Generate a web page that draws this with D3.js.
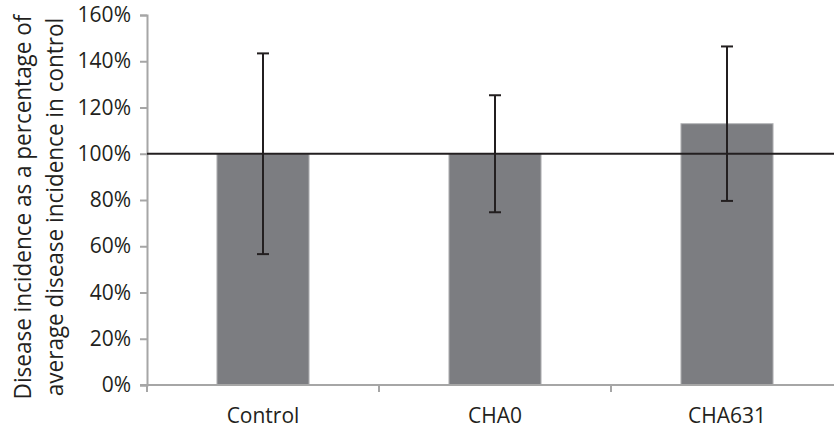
<!DOCTYPE html>
<html>
<head>
<meta charset="utf-8">
<script src="https://cdn.jsdelivr.net/npm/d3@7"></script>
<style>
  html, body { margin: 0; padding: 0; background: #fff; }
  svg { display: block; font-family: "Open Sans", sans-serif; }
</style>
</head>
<body>
<svg id="chart" width="834" height="432"></svg>
<script>
// Treatments and disease incidence relative to the control mean (%)
const categories = ["Control", "CHA0", "CHA631"];
const means = [100, 100, 113];
const errors = [43.4, 25.3, 33.4];
const yTicks = [0, 20, 40, 60, 80, 100, 120, 140, 160];
const referenceLevel = 100;
const yTitleLines = ["Disease incidence as a percentage of", "average disease incidence in control"];

const svg = d3.select("#chart");
const plotLeft = 147, plotTop = 15, plotBottom = 385, plotRight = 843;

const x = d3.scaleBand().domain(categories).range([plotLeft, plotRight]).padding(0);
const y = d3.scaleLinear().domain([0, 160]).range([plotBottom, plotTop]);
const barW = x.bandwidth() * 0.397;

const axisColor = "#a6a6a6";
const inkColor = "#231f20";
const labelSize = "21px";

// Bars
svg.append("g").selectAll("rect")
  .data(categories)
  .join("rect")
  .attr("x", (d) => x(d) + x.bandwidth() / 2 - barW / 2)
  .attr("y", (d, i) => y(means[i]))
  .attr("width", barW)
  .attr("height", (d, i) => y(0) - y(means[i]))
  .attr("fill", "#7c7d81")
  .attr("stroke", "#b5b6b8")
  .attr("stroke-width", 1);

// Y axis
const yAxis = svg.append("g")
  .attr("transform", `translate(${plotLeft},0)`)
  .call(d3.axisLeft(y).tickValues(yTicks).tickFormat((d) => d + "%").tickSize(7).tickPadding(9));
yAxis.select(".domain").attr("stroke", axisColor).attr("stroke-width", 2);
yAxis.selectAll(".tick line").attr("stroke", axisColor).attr("stroke-width", 2);
yAxis.selectAll(".tick text")
  .attr("fill", inkColor)
  .style("font-size", labelSize)
  .style("font-family", "'Open Sans', sans-serif");

// X axis: ticks at category boundaries, labels centred under bars
const xAxisG = svg.append("g").attr("transform", `translate(0,${plotBottom})`);
xAxisG.append("line")
  .attr("x1", plotLeft - 7).attr("x2", plotRight)
  .attr("stroke", axisColor).attr("stroke-width", 2);
const boundaries = categories.map((d) => x(d)).concat([x(categories[categories.length - 1]) + x.bandwidth()]);
xAxisG.selectAll("line.bt")
  .data(boundaries)
  .join("line")
  .attr("class", "bt")
  .attr("x1", (d) => d).attr("x2", (d) => d)
  .attr("y1", 0).attr("y2", 7)
  .attr("stroke", axisColor).attr("stroke-width", 2);
xAxisG.selectAll("text")
  .data(categories)
  .join("text")
  .attr("x", (d) => x(d) + x.bandwidth() / 2)
  .attr("y", 38)
  .attr("text-anchor", "middle")
  .attr("fill", inkColor)
  .style("font-size", labelSize)
  .text((d) => d);

// Reference line at the control level
svg.append("line")
  .attr("x1", plotLeft).attr("x2", 834)
  .attr("y1", y(referenceLevel)).attr("y2", y(referenceLevel))
  .attr("stroke", inkColor).attr("stroke-width", 2);

// Error bars
const eb = svg.append("g").selectAll("g")
  .data(categories)
  .join("g")
  .attr("transform", (d) => `translate(${x(d) + x.bandwidth() / 2},0)`);
eb.append("line")
  .attr("y1", (d, i) => y(means[i] - errors[i]))
  .attr("y2", (d, i) => y(means[i] + errors[i]))
  .attr("stroke", inkColor).attr("stroke-width", 2);
eb.append("line")
  .attr("x1", -6).attr("x2", 6)
  .attr("y1", (d, i) => y(means[i] + errors[i]))
  .attr("y2", (d, i) => y(means[i] + errors[i]))
  .attr("stroke", inkColor).attr("stroke-width", 2);
eb.append("line")
  .attr("x1", -6).attr("x2", 6)
  .attr("y1", (d, i) => y(means[i] - errors[i]))
  .attr("y2", (d, i) => y(means[i] - errors[i]))
  .attr("stroke", inkColor).attr("stroke-width", 2);

// Y-axis title, two rotated lines
const title = svg.append("text")
  .attr("transform", "translate(0,207) scale(1.06,1) rotate(-90)")
  .attr("text-anchor", "middle")
  .attr("fill", inkColor)
  .style("font-size", "22.5px");
title.selectAll("tspan")
  .data(yTitleLines)
  .join("tspan")
  .attr("x", 0)
  .attr("y", (d, i) => 29 + i * 30)
  .text((d) => d);
</script>
</body>
</html>
